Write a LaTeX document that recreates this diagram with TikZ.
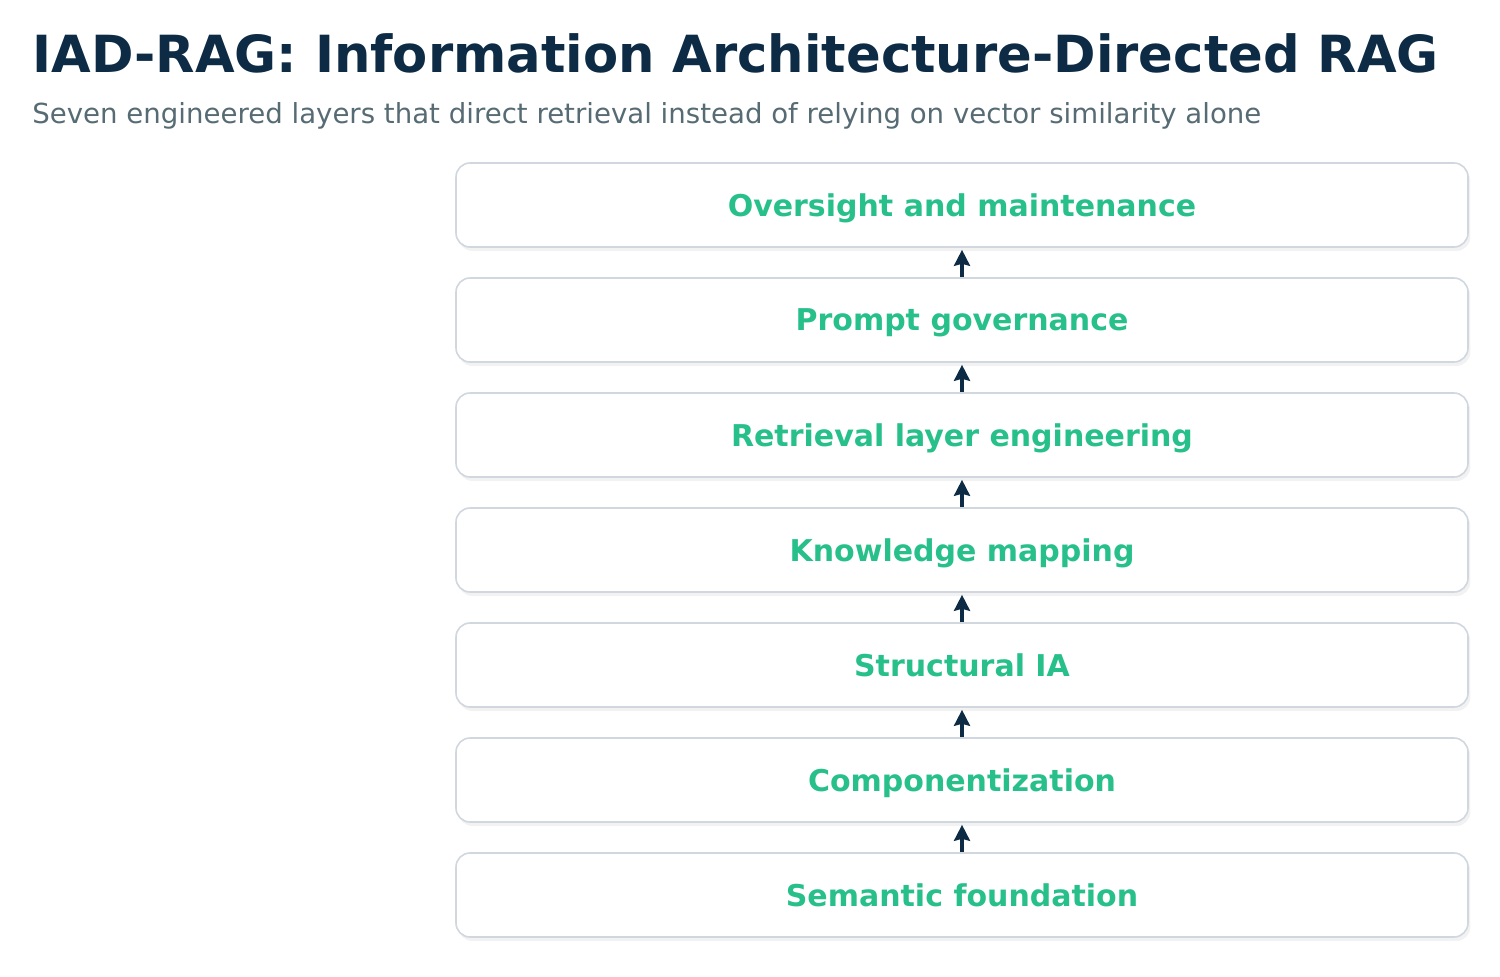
\documentclass[tikz,border=0pt]{standalone}
\usepackage{fontspec}
\setmainfont{DejaVu Sans}
\usetikzlibrary{arrows.meta,shadows}
\definecolor{navy}{HTML}{0D2B45}
\definecolor{slate}{HTML}{566B73}
\definecolor{leaf}{HTML}{27C08A}
\definecolor{rim}{HTML}{D0D7DF}
\begin{document}
\begin{tikzpicture}[x=0.5pt,y=-0.5pt]

      \useasboundingbox (0,0) rectangle (1500,976);

      \node[anchor=base west, text=navy, font=\fontsize{25.6}{30}\selectfont\bfseries, inner sep=0pt] (title) at (32,72) {IAD-RAG: Information Architecture-Directed RAG};
      \node[anchor=base west, text=slate, font=\fontsize{13.8}{16}\selectfont, inner sep=0pt] (sub) at (32,123) {Seven engineered layers that direct retrieval instead of relying on vector similarity alone};

      \begin{scope}[every node/.style={draw=rim, line width=0.8pt, fill=white, rounded corners=7pt,
          minimum width=506pt, minimum height=42pt, inner sep=0pt, text depth=0pt,
          drop shadow={opacity=0.1, shadow xshift=1.2pt, shadow yshift=-2pt},
          text=leaf, font=\fontsize{15}{18}\selectfont\bfseries}]
        \node (7) at (962,205) {Oversight and maintenance};
        \node (6) at (962,320) {Prompt governance};
        \node (5) at (962,435) {Retrieval layer engineering};
        \node (4) at (962,550) {Knowledge mapping};
        \node (3) at (962,665) {Structural IA};
        \node (2) at (962,780) {Componentization};
        \node (1) at (962,895) {Semantic foundation};
      \end{scope}

      \begin{scope}[every path/.style={draw=navy, line width=1.6pt, shorten >=1pt, -{Stealth[length=8pt,width=8pt,inset=1pt]}}]
        \path (1) -- (2);
        \path (2) -- (3);
        \path (3) -- (4);
        \path (4) -- (5);
        \path (5) -- (6);
        \path (6) -- (7);
      \end{scope}

    \end{tikzpicture}
\end{document}
